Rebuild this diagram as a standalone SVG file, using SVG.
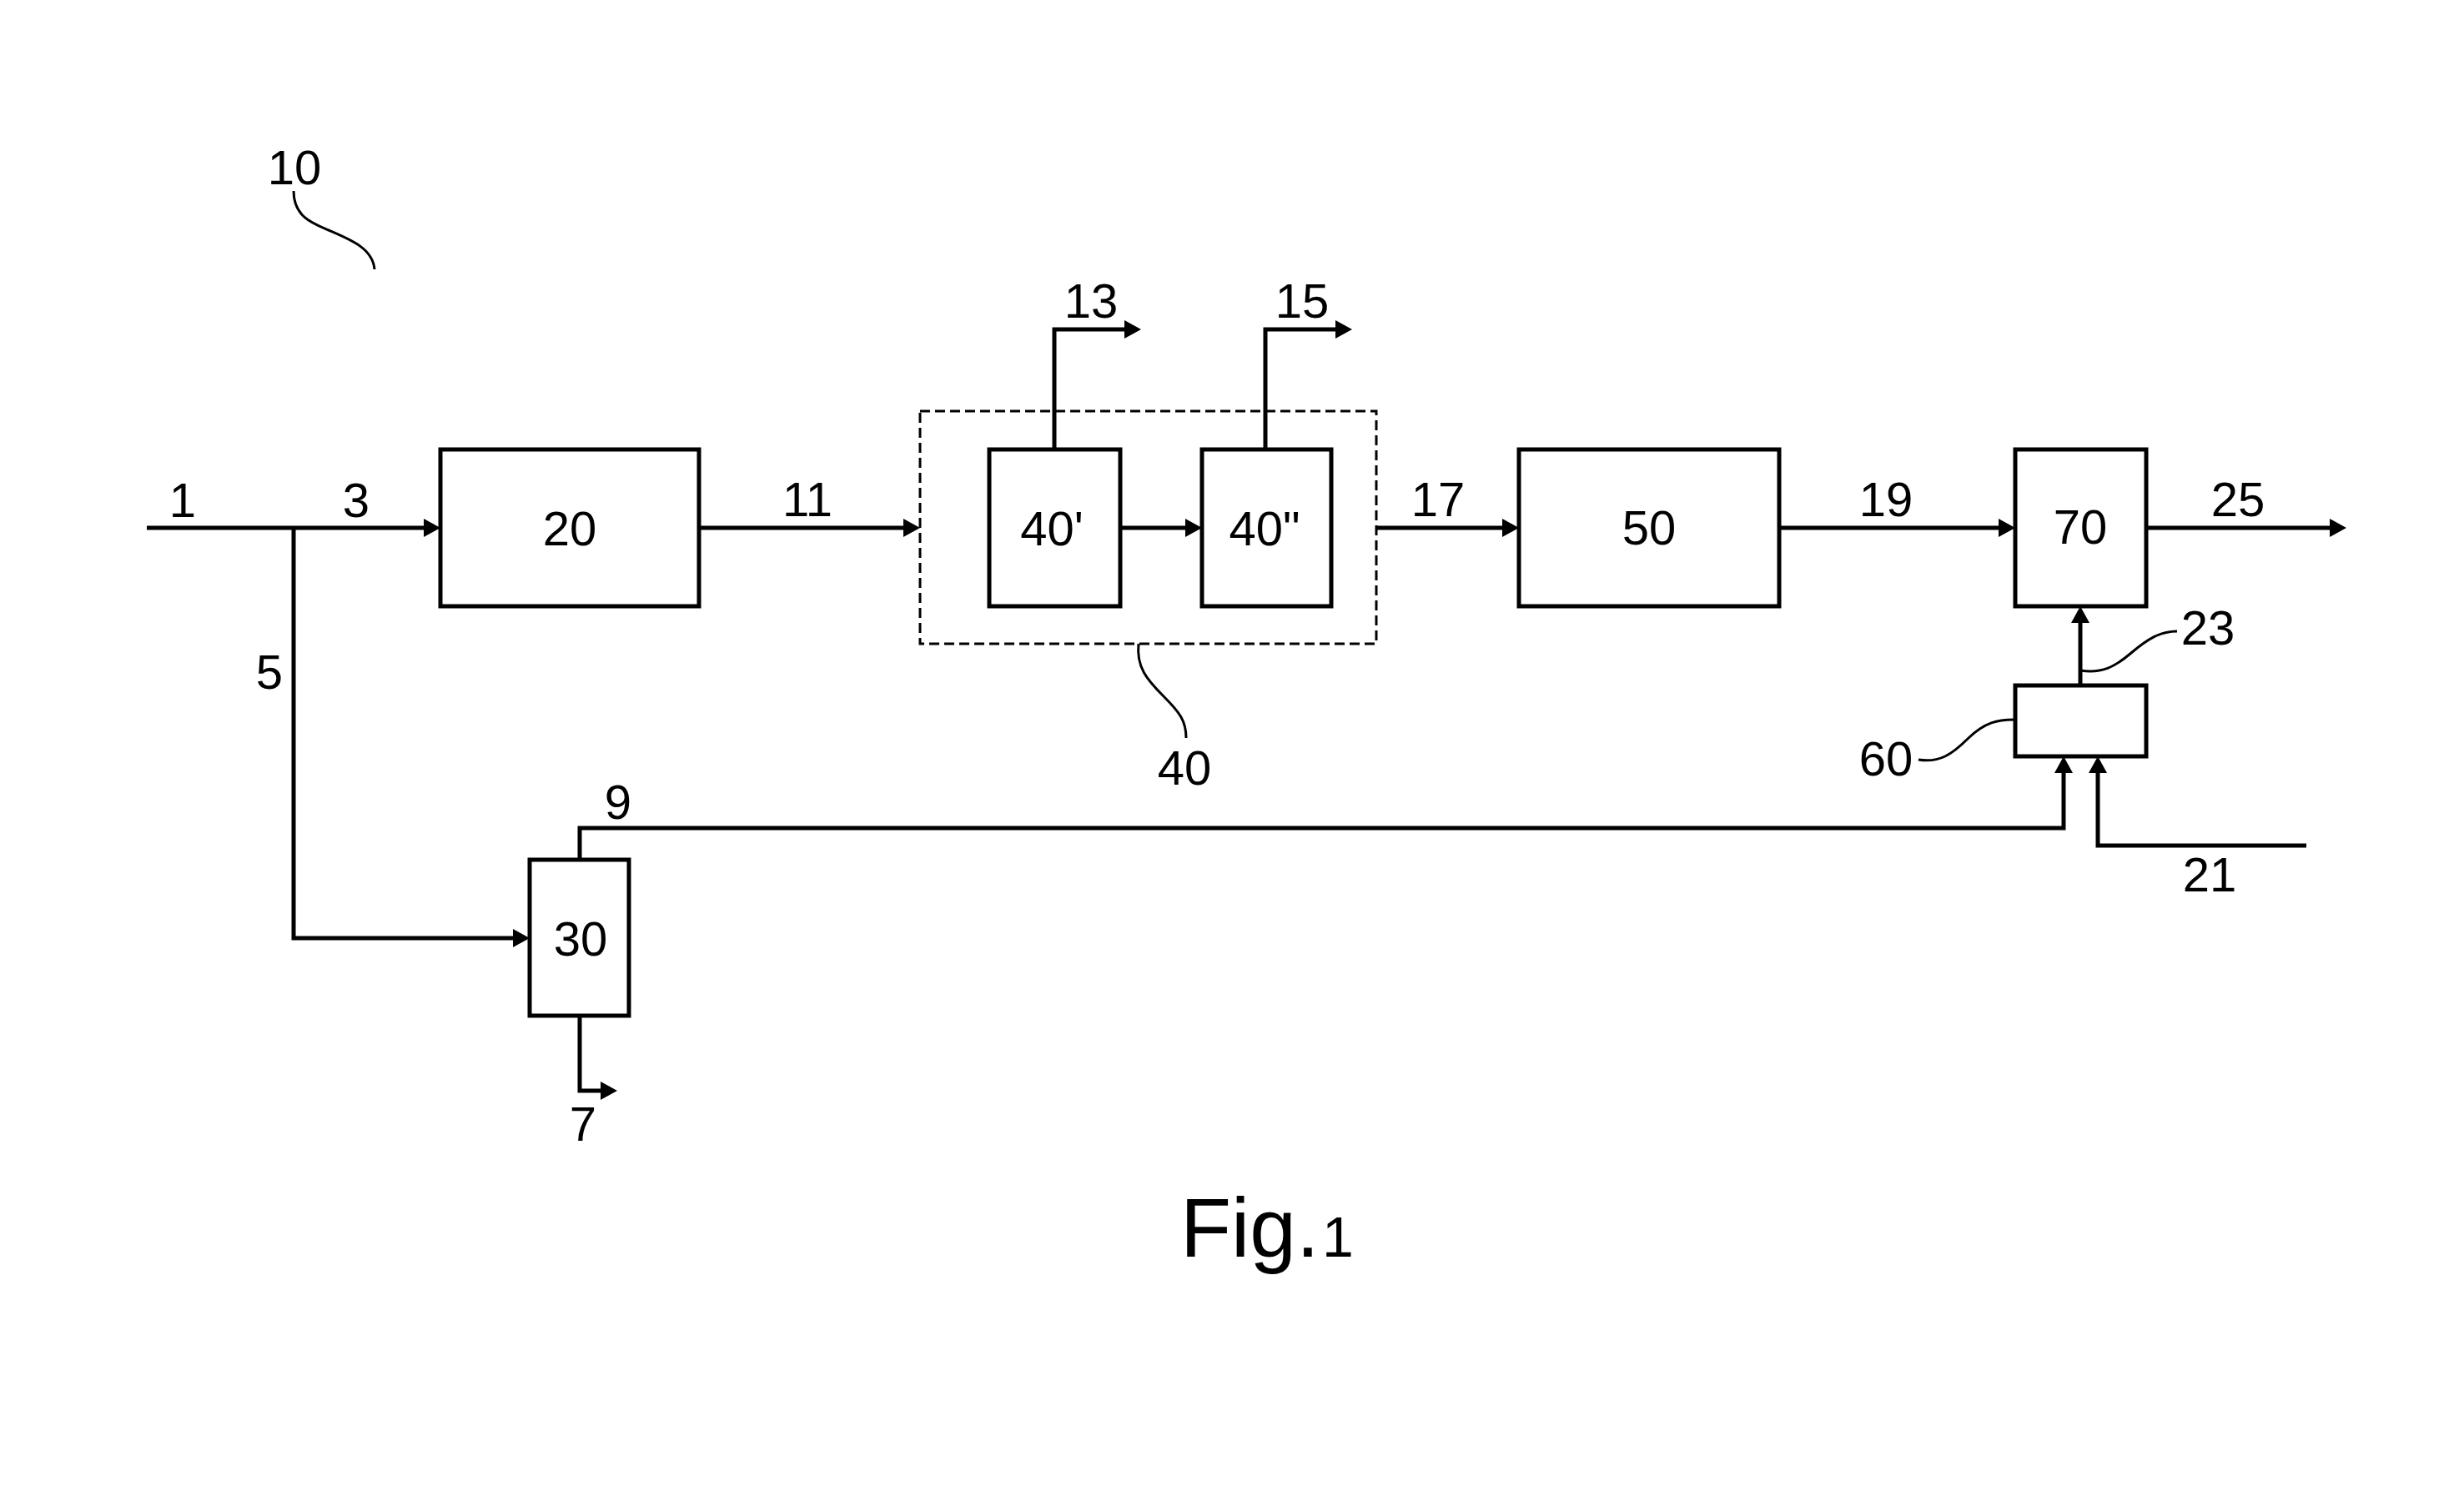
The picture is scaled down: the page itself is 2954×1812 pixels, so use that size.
<svg xmlns="http://www.w3.org/2000/svg" width="2954" height="1812" viewBox="0 0 2954 1812">
<style>
.box{fill:none;stroke:#000;stroke-width:5}
.dash{fill:none;stroke:#000;stroke-width:3;stroke-dasharray:12 6}
.ln{fill:none;stroke:#000;stroke-width:5}
.ld{fill:none;stroke:#000;stroke-width:3}
text{font-family:"Liberation Sans",Arial,sans-serif;font-size:58px;fill:#000;text-anchor:middle}
</style>
<defs>
<marker id="ah" markerUnits="userSpaceOnUse" viewBox="0 0 20 22" refX="10" refY="11" markerWidth="20" markerHeight="22" orient="auto">
<path d="M0,0 L20,11 L0,22 z" fill="#000"/>
</marker>
</defs>
<rect width="2954" height="1812" fill="#fff"/>
<g id="connectors">
<path class="ln" d="M176,633 H518" marker-end="url(#ah)"/>
<path class="ln" d="M352,633 V1125 H625" marker-end="url(#ah)"/>
<path class="ln" d="M838,633 H1093" marker-end="url(#ah)"/>
<path class="ln" d="M1343,633 H1431" marker-end="url(#ah)"/>
<path class="ln" d="M1650,633 H1811" marker-end="url(#ah)"/>
<path class="ln" d="M2133,633 H2406" marker-end="url(#ah)"/>
<path class="ln" d="M2573,633 H2803" marker-end="url(#ah)"/>
<path class="ln" d="M1264,539 V395 H1358" marker-end="url(#ah)"/>
<path class="ln" d="M1517,539 V395 H1611" marker-end="url(#ah)"/>
<path class="ln" d="M695,1031 V993 H2474 V917" marker-end="url(#ah)"/>
<path class="ln" d="M2765,1014 H2515 V917" marker-end="url(#ah)"/>
<path class="ln" d="M2494,822 V737" marker-end="url(#ah)"/>
<path class="ln" d="M695,1218 V1308 H730" marker-end="url(#ah)"/>
<path class="ld" d="M352,229 C352,260 375,268 394,276 C420,287 447,298 449,323"/>
<path class="ld" d="M1365,772 C1362,800 1375,815 1395,835 C1415,855 1422,865 1422,885"/>
<path class="ld" d="M2494,804 C2520,808 2535,800 2555,783 C2575,766 2590,757 2610,757"/>
<path class="ld" d="M2300,911 C2325,915 2340,905 2360,885 C2380,866 2395,863 2414,863"/>
</g>
<g id="node-20"><rect class="box" x="528" y="539" width="310" height="188"/><text x="683" y="654">20</text></g>
<g id="node-30"><rect class="box" x="635" y="1031" width="119" height="187"/><text x="696" y="1146">30</text></g>
<g id="node-40"><rect class="dash" x="1103" y="493" width="547" height="279"/><text x="1420" y="941">40</text></g>
<g id="node-40a"><rect class="box" x="1186" y="539" width="157" height="188"/><text x="1261" y="654">40'</text></g>
<g id="node-40b"><rect class="box" x="1441" y="539" width="155" height="188"/><text x="1516" y="654">40"</text></g>
<g id="node-50"><rect class="box" x="1821" y="539" width="312" height="188"/><text x="1977" y="653">50</text></g>
<g id="node-60"><rect class="box" x="2416" y="822" width="157" height="85"/><text x="2261" y="930">60</text></g>
<g id="node-70"><rect class="box" x="2416" y="539" width="157" height="188"/><text x="2494" y="652">70</text></g>
<g id="labels">
<text x="353" y="221">10</text>
<text x="219" y="620">1</text>
<text x="427" y="620">3</text>
<text x="323" y="826">5</text>
<text x="968" y="619">11</text>
<text x="1308" y="381">13</text>
<text x="1561" y="381">15</text>
<text x="1724" y="619">17</text>
<text x="2261" y="619">19</text>
<text x="2683" y="619">25</text>
<text x="2647" y="773">23</text>
<text x="2649" y="1069">21</text>
<text x="741" y="982">9</text>
<text x="699" y="1368">7</text>
<text x="1415" y="1507" style="font-size:100px;text-anchor:start">Fig.</text>
<text x="1585" y="1507" style="font-size:68px;text-anchor:start">1</text>
</g>
</svg>
